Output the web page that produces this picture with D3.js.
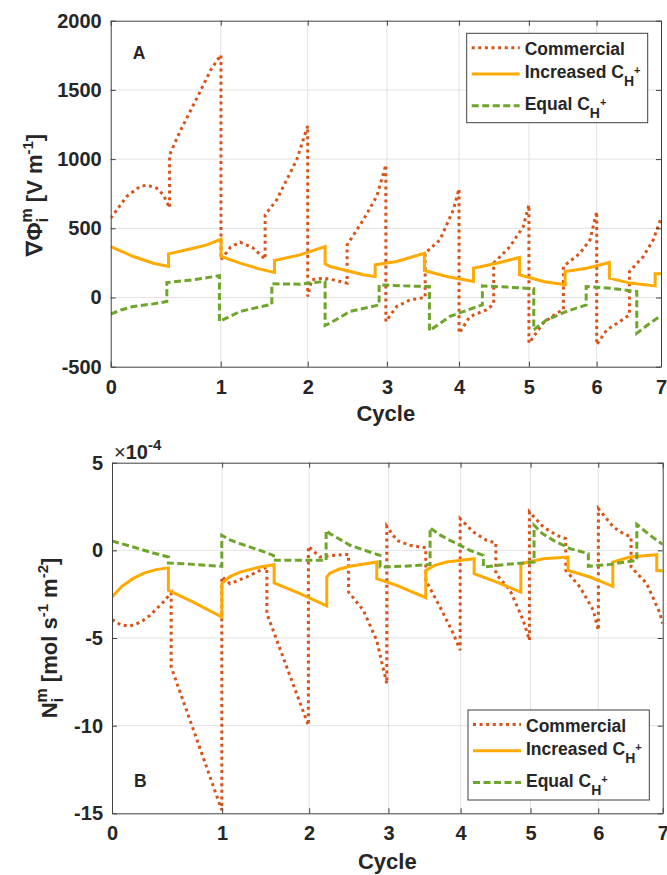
<!DOCTYPE html>
<html>
<head>
<meta charset="utf-8">
<script src="https://cdn.jsdelivr.net/npm/d3@7"></script>
<style>
  body { margin: 0; background: #fff; }
  svg text { font-family: "Liberation Sans", Arial, Helvetica, sans-serif; font-weight: bold; fill: #262626; }
</style>
</head>
<body>
<div id="chart"></div>
<script>
// elapsed time (h) at the end of each cycle -> x ticks, labelled by cycle number
const cycleEnds = [0, 10.0, 17.9, 25.1, 31.65, 38.0, 44.15, 50.0];
const cycleLabels = [0, 1, 2, 3, 4, 5, 6, 7];

const phiTicks = [-500, 0, 500, 1000, 1500, 2000];
const fluxTicks = [-15, -10, -5, 0, 5];   // units of 1e-4 mol s-1 m-2

// panel A: membrane potential gradient [V m-1], [time h, value]
const phiCommercial = [[0,573],[1.45,730],[2.66,802],[3.27,812],[4.18,790],[4.78,742],[5.35,648],[5.35,1030],[6.3,1200],[7.9,1452],[9.1,1645],[10.02,1753],
  [10.02,272],[10.9,365],[11.75,400],[12.9,360],[14.03,277],[14.03,597],[15.08,705],[15.99,850],[16.9,995],[17.9,1240],
  [17.9,7],[18.26,128],[19.3,140],[20.4,125],[21.48,104],[21.48,380],[22.95,561],[24.17,730],[25.0,958],
  [25.0,-173],[25.99,-65],[27.2,-17],[28.57,0],[28.57,320],[29.92,417],[31.13,633],[31.65,785],
  [31.65,-258],[32.65,-137],[34.16,-89],[34.8,-46],[34.8,248],[36.28,368],[37.49,513],[38.0,669],
  [38.0,-330],[39.3,-185],[40.52,-113],[41.13,-89],[41.13,224],[42.64,320],[43.55,417],[44.16,621],
  [44.16,-342],[45.07,-234],[46.27,-173],[47.13,-125],[47.13,188],[48.39,296],[49.3,417],[50,573]];
const phiIncreased = [[0,368],[1.1,330],[2.05,296],[3.87,248],[5.25,224],[5.25,315],[7.5,356],[8.72,380],[10.03,421],
  [10.03,296],[11.75,248],[13.57,205],[14.88,181],[14.88,267],[17.2,308],[19.48,368],
  [19.48,243],[19.93,224],[22.95,164],[24.03,152],[24.03,236],[25.99,260],[28.5,320],
  [28.5,195],[30.53,152],[32.96,116],[32.96,212],[35.07,248],[37.14,289],
  [37.14,164],[39.3,116],[41.29,92],[41.29,188],[43.25,212],[45.31,253],
  [45.31,140],[47.18,104],[49.47,84],[49.47,171],[50,171]];
const phiEqual = [[0,-120],[1.0,-88],[2.05,-65],[3.87,-46],[5.1,-29],[5.1,108],[7.5,128],[9.88,157],
  [9.88,-173],[11.75,-101],[14.64,-48],[14.64,99],[17.2,96],[19.48,116],
  [19.48,-202],[19.93,-185],[21.74,-101],[24.39,-53],[24.39,92],[26.59,84],[28.96,79],
  [28.96,-241],[30.83,-137],[32.65,-84],[33.77,-53],[33.77,84],[35.98,75],[38.44,63],
  [38.44,-234],[39.61,-161],[41.43,-101],[43.2,-53],[43.2,79],[45.37,67],[47.8,43],
  [47.8,-258],[49.0,-185],[50,-132]];

// panel B: membrane flux [1e-4 mol s-1 m-2], [time h, value]
const fluxCommercial = [[0,-3.95],[0.8,-4.25],[1.63,-4.32],[2.6,-4.1],[3.45,-3.71],[4.66,-2.95],[5.37,-2.43],[5.37,-6.65],[7.6,-10.6],[9.97,-14.83],
  [9.97,-1.5],[10.71,-1.9],[12.23,-1.52],[14.06,-0.95],[14.06,-3.6],[17.83,-9.98],
  [17.83,0.23],[18.88,-0.38],[20.09,-0.29],[21.48,-0.23],[21.48,-2.38],[22.82,-3.42],[24.03,-5.13],[24.95,-7.6],
  [24.95,1.37],[25.85,0.57],[27.06,0.29],[28.49,0.15],[28.49,-1.71],[29.78,-3.23],[30.99,-4.75],[31.61,-5.7],
  [31.61,1.81],[32.8,1.05],[34.02,0.57],[34.85,0.42],[34.85,-1.33],[36.14,-2.28],[37.34,-3.99],[37.9,-5.13],
  [37.9,2.19],[39.16,1.33],[40.37,0.86],[41.2,0.67],[41.2,-1.14],[42.49,-2.09],[43.7,-3.42],[44.16,-4.56],
  [44.16,2.38],[45.52,1.33],[46.42,0.95],[47.13,0.76],[47.13,-0.95],[48.55,-1.9],[49.76,-3.61],[50,-4.18]];
const fluxIncreased = [[0,-2.66],[0.9,-2.05],[1.94,-1.6],[2.9,-1.3],[4.0,-1.1],[5.12,-1.0],[5.12,-2.28],[7.38,-2.95],[9.97,-3.8],
  [9.97,-1.9],[10.7,-1.5],[11.62,-1.24],[13.44,-0.95],[14.72,-0.82],[14.72,-1.86],[17.07,-2.47],[19.5,-3.17],
  [19.5,-1.52],[19.79,-1.3],[20.6,-1.08],[21.61,-0.91],[24.04,-0.67],[24.04,-1.62],[25.85,-2.0],[28.49,-2.7],
  [28.49,-1.14],[29.3,-0.86],[30.39,-0.67],[32.88,-0.48],[32.88,-1.33],[34.93,-1.81],[37.12,-2.38],
  [37.12,-0.76],[39.16,-0.48],[41.41,-0.38],[41.41,-1.14],[43.4,-1.52],[45.47,-2.05],
  [45.47,-0.67],[47.03,-0.38],[49.46,-0.25],[49.46,-1.14],[50,-1.18]];
const fluxEqual = [[0,0.53],[1.94,0.19],[3.75,-0.15],[5.12,-0.38],[5.12,-0.72],[7.38,-0.8],[9.97,-0.91],
  [9.97,0.86],[10.7,0.6],[11.62,0.38],[13.44,0],[14.66,-0.29],[14.66,-0.57],[17.07,-0.57],[19.44,-0.57],
  [19.44,1.14],[19.79,0.95],[21.61,0.29],[24.34,-0.29],[24.34,-0.95],[26.45,-0.91],[28.88,-0.8],
  [28.88,1.29],[29.7,0.9],[30.69,0.57],[32.5,0],[33.72,-0.29],[33.72,-0.95],[35.84,-0.8],[38.32,-0.67],
  [38.32,1.43],[39.1,0.95],[40.07,0.57],[41.58,0.1],[43.25,-0.19],[43.25,-0.91],[45.21,-0.8],[47.65,-0.57],
  [47.65,1.48],[48.85,0.86],[50,0.34]];

const seriesNames = ['Commercial', 'Increased', 'Equal'];

const styles = [
    { color: '#D95319', width: 3, dash: '3,3.6' },
    { color: '#FFAA00', width: 3, dash: null },
    { color: '#6EA52A', width: 3, dash: '7,3.5' }
];

const legendParts = [
    [{ t: 'Commercial' }],
    [{ t: 'Increased C' }, { t: 'H', size: 14, shift: -8 }, { t: '+', size: 11, shift: 4 }],
    [{ t: 'Equal C' }, { t: 'H', size: 14, shift: -8 }, { t: '+', size: 11, shift: 4 }]
];

const W = 667, H = 875;
const svg = d3.select('#chart').append('svg')
    .attr('width', W)
    .attr('height', H)
    .attr('viewBox', `0 0 ${W} ${H}`);

// text with sub/superscripts; shift is px upwards, dx for stacking
function richText(sel, parts) {
    let cur = 0;
    parts.forEach(p => {
        const s = p.shift || 0;
        const ts = sel.append('tspan').text(p.t).attr('dy', cur - s);
        if (p.size) ts.attr('font-size', p.size);
        if (p.dx) ts.attr('dx', p.dx);
        if (p.weight) ts.attr('font-weight', p.weight);
        cur = s;
    });
    return sel;
}

function drawPanel(o) {
    const g = svg.append('g').attr('transform', `translate(${o.left},${o.top})`);

    const x = d3.scaleLinear()
        .domain([cycleEnds[0], cycleEnds[cycleEnds.length - 1]])
        .range([0, o.width]);
    const y = d3.scaleLinear()
        .domain([o.yTicks[0], o.yTicks[o.yTicks.length - 1]])
        .range([o.height, 0]);

    // grid
    g.append('g').selectAll('line')
        .data(cycleEnds.slice(1, -1))
        .enter().append('line')
        .attr('x1', d => x(d)).attr('x2', d => x(d))
        .attr('y1', 0).attr('y2', o.height)
        .attr('stroke', '#e2e2e2');
    g.append('g').selectAll('line')
        .data(o.yTicks.slice(1, -1))
        .enter().append('line')
        .attr('x1', 0).attr('x2', o.width)
        .attr('y1', d => y(d)).attr('y2', d => y(d))
        .attr('stroke', '#e2e2e2');

    // lines
    const clipId = 'clip-' + o.tag;
    g.append('clipPath').attr('id', clipId)
        .append('rect').attr('width', o.width).attr('height', o.height);

    const line = d3.line().x(d => x(d[0])).y(d => y(d[1]));
    o.data.forEach((d, i) => {
        g.append('path')
            .datum(d)
            .attr('d', line)
            .attr('fill', 'none')
            .attr('stroke', styles[i].color)
            .attr('stroke-width', styles[i].width)
            .attr('stroke-dasharray', styles[i].dash)
            .attr('stroke-linejoin', 'miter')
            .attr('clip-path', `url(#${clipId})`);
    });

    // axes, ticks pointing inward like matlab
    const axes = [
        g.append('g').attr('transform', `translate(0,${o.height})`)
            .call(d3.axisBottom(x).tickValues(cycleEnds).tickFormat((d, i) => cycleLabels[i])
                .tickSizeInner(-5).tickSizeOuter(0).tickPadding(13)),
        g.append('g')
            .call(d3.axisTop(x).tickValues(cycleEnds).tickFormat('').tickSizeInner(-5).tickSizeOuter(0)),
        g.append('g')
            .call(d3.axisLeft(y).tickValues(o.yTicks).tickFormat(d => String(d))
                .tickSizeInner(-5).tickSizeOuter(0).tickPadding(9)),
        g.append('g').attr('transform', `translate(${o.width},0)`)
            .call(d3.axisRight(y).tickValues(o.yTicks).tickFormat('').tickSizeInner(-5).tickSizeOuter(0))
    ];
    axes.forEach(a => {
        a.attr('font-size', 20).attr('font-family', null);
        a.selectAll('.domain, .tick line').attr('stroke', '#404040');
    });

    // x label
    svg.append('text')
        .attr('x', o.left + o.width / 2)
        .attr('y', o.xLabelY)
        .attr('text-anchor', 'middle')
        .attr('font-size', 22)
        .text('Cycle');

    // y label
    richText(svg.append('text')
        .attr('transform', `translate(${o.yLabelX},${o.top + o.height / 2 + o.yLabelDy}) rotate(-90)`)
        .attr('text-anchor', 'middle')
        .attr('font-size', 22), o.yLabel);

    // panel letter
    svg.append('text')
        .attr('x', o.left + 22)
        .attr('y', o.tagY)
        .attr('font-size', 17.5)
        .text(o.tag);

    drawLegend(o.legend);
    return { x, y };
}

function drawLegend(o) {
    const g = svg.append('g').attr('transform', `translate(${o.x},${o.y})`);
    g.append('rect')
        .attr('width', o.w).attr('height', o.h)
        .attr('fill', '#fff').attr('stroke', '#404040');
    const rows = [14.5, 40.7, 72.5];
    const base = [21.7, 45, 76.7];
    seriesNames.forEach((name, i) => {
        g.append('line')
            .attr('x1', 5).attr('x2', 53)
            .attr('y1', rows[i]).attr('y2', rows[i])
            .attr('stroke', styles[i].color)
            .attr('stroke-width', styles[i].width)
            .attr('stroke-dasharray', styles[i].dash);
        richText(g.append('text')
            .attr('x', 58).attr('y', base[i])
            .attr('font-size', 17.5), legendParts[i]);
    });
}

drawPanel({
    tag: 'A', tagY: 59,
    left: 110.7, top: 20.7, width: 550.3, height: 346,
    yTicks: phiTicks,
    data: [phiCommercial, phiIncreased, phiEqual],
    xLabelY: 421,
    yLabelX: 42, yLabelDy: 1,
    yLabel: [{ t: '\u2207\u03A6' }, { t: 'm', size: 16, shift: 10 }, { t: 'i', size: 16, shift: -6, dx: -14 },
             { t: ' [V m', dx: 9.5 }, { t: '-1', size: 15, shift: 9 }, { t: ']' }],
    legend: { x: 466.7, y: 33.3, w: 181, h: 89.4 }
});

drawPanel({
    tag: 'B', tagY: 787,
    left: 112, top: 462.7, width: 550.7, height: 350.6,
    yTicks: fluxTicks,
    data: [fluxCommercial, fluxIncreased, fluxEqual],
    xLabelY: 869,
    yLabelX: 57, yLabelDy: 0,
    yLabel: [{ t: 'N' }, { t: 'm', size: 16, shift: 10 }, { t: 'i', size: 16, shift: -6, dx: -14 },
             { t: ' [mol s', dx: 9.5 }, { t: '-1', size: 15, shift: 9 }, { t: ' m' }, { t: '-2', size: 15, shift: 9 }, { t: ']' }],
    legend: { x: 468, y: 710, w: 181.3, h: 90 }
});

// exponent note for panel B
richText(svg.append('text')
    .attr('x', 114).attr('y', 459)
    .attr('font-size', 20),
    [{ t: '\u00D7', weight: 'normal' }, { t: '10' }, { t: '-4', size: 15, shift: 9 }]);
</script>
</body>
</html>
